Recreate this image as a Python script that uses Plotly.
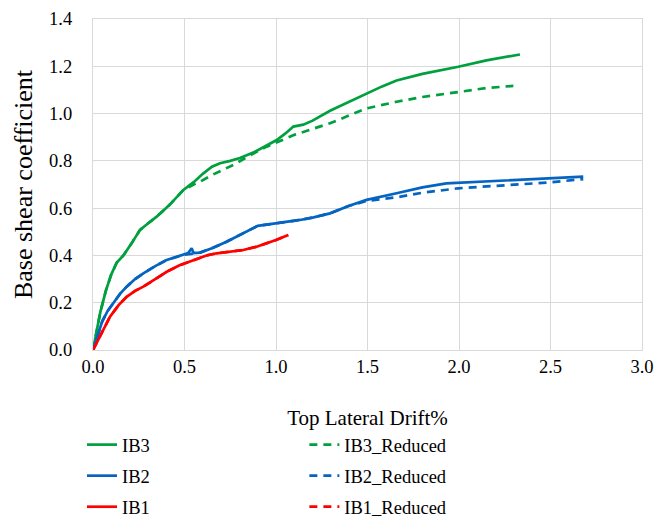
import plotly.graph_objects as go

# ---- data ----
ib3_x = [0, 0.02, 0.04, 0.07, 0.10, 0.13, 0.166, 0.21, 0.257, 0.30, 0.348, 0.42, 0.494, 0.55, 0.60, 0.65, 0.694, 0.75, 0.803, 0.876, 0.95, 1.004, 1.05, 1.095, 1.149, 1.20, 1.295, 1.40, 1.495, 1.58, 1.659, 1.80, 1.996, 2.15, 2.333]
ib3_y = [0, 0.08, 0.16, 0.25, 0.32, 0.37, 0.40, 0.45, 0.508, 0.535, 0.564, 0.615, 0.677, 0.71, 0.745, 0.775, 0.79, 0.80, 0.812, 0.835, 0.865, 0.888, 0.915, 0.945, 0.953, 0.97, 1.012, 1.05, 1.086, 1.115, 1.14, 1.168, 1.198, 1.225, 1.25]

ib3r_x = [0, 0.02, 0.04, 0.07, 0.10, 0.13, 0.166, 0.21, 0.257, 0.30, 0.348, 0.42, 0.494, 0.55, 0.585, 0.65, 0.767, 0.85, 0.949, 1.10, 1.295, 1.495, 1.659, 1.80, 1.996, 2.15, 2.297]
ib3r_y = [0, 0.08, 0.16, 0.25, 0.32, 0.37, 0.40, 0.45, 0.508, 0.535, 0.564, 0.615, 0.677, 0.70, 0.712, 0.74, 0.783, 0.82, 0.860, 0.91, 0.959, 1.022, 1.050, 1.07, 1.093, 1.108, 1.117]

ib2_x = [0, 0.02, 0.05, 0.08, 0.111, 0.15, 0.184, 0.23, 0.275, 0.34, 0.403, 0.45, 0.494, 0.52, 0.539, 0.55, 0.585, 0.65, 0.73, 0.80, 0.858, 0.90, 0.949, 1.05, 1.131, 1.20, 1.295, 1.40, 1.495, 1.659, 1.80, 1.931, 2.204, 2.497, 2.679]
ib2_y = [0, 0.05, 0.12, 0.165, 0.198, 0.24, 0.268, 0.30, 0.324, 0.355, 0.381, 0.392, 0.402, 0.41, 0.43, 0.41, 0.412, 0.43, 0.458, 0.485, 0.508, 0.525, 0.53, 0.54, 0.55, 0.56, 0.578, 0.61, 0.635, 0.663, 0.688, 0.705, 0.715, 0.726, 0.733]

ib2r_x = [0, 0.02, 0.05, 0.08, 0.111, 0.15, 0.184, 0.23, 0.275, 0.34, 0.403, 0.45, 0.494, 0.585, 0.65, 0.73, 0.80, 0.858, 0.90, 0.949, 1.05, 1.131, 1.20, 1.295, 1.40, 1.495, 1.659, 1.80, 1.996, 2.297, 2.497, 2.679]
ib2r_y = [0, 0.05, 0.12, 0.165, 0.198, 0.24, 0.268, 0.30, 0.324, 0.355, 0.381, 0.392, 0.402, 0.412, 0.43, 0.458, 0.485, 0.508, 0.525, 0.53, 0.54, 0.55, 0.56, 0.578, 0.61, 0.630, 0.646, 0.665, 0.684, 0.698, 0.709, 0.723]

ib1_x = [0, 0.02, 0.05, 0.093, 0.14, 0.184, 0.23, 0.275, 0.34, 0.403, 0.47, 0.548, 0.62, 0.676, 0.75, 0.821, 0.89, 0.949, 1.00, 1.067]
ib1_y = [0, 0.03, 0.08, 0.141, 0.19, 0.225, 0.25, 0.268, 0.30, 0.331, 0.357, 0.381, 0.40, 0.409, 0.415, 0.423, 0.436, 0.451, 0.465, 0.486]

ib1r_x = list(ib1_x)
ib1r_y = list(ib1_y)

GREEN = "#00A03E"
BLUE = "#0563C1"
RED = "#FF0000"
FONT = "Liberation Serif"

fig = go.Figure()

def add(x, y, name, color, dash, legend):
    fig.add_trace(go.Scatter(
        x=x, y=y, name=name, mode="lines",
        line=dict(color=color, width=2.7, dash=dash),
        legend=legend, legendgroup=name,
    ))

add(ib3r_x, ib3r_y, "IB3_Reduced", GREEN, "8px,6px", "legend2")
add(ib2r_x, ib2r_y, "IB2_Reduced", BLUE, "8px,6px", "legend2")
add(ib1r_x, ib1r_y, "IB1_Reduced", RED, "8px,6px", "legend2")
add(ib3_x, ib3_y, "IB3", GREEN, "solid", "legend")
add(ib2_x, ib2_y, "IB2", BLUE, "solid", "legend")
add(ib1_x, ib1_y, "IB1", RED, "solid", "legend")

legend_common = dict(
    font=dict(family=FONT, size=18.5, color="black"),
    bgcolor="rgba(0,0,0,0)",
    traceorder="grouped",
    orientation="v",
    xanchor="left", yanchor="bottom",
    itemwidth=30,
    tracegroupgap=4,
)

fig.update_layout(
    width=659, height=520,
    margin=dict(l=93, r=17, t=19, b=170, autoexpand=False),
    paper_bgcolor="white", plot_bgcolor="white",
    font=dict(family=FONT, size=18.5, color="black"),
    showlegend=True,
    legend=dict(x=-0.02, y=-0.532, **legend_common),
    legend2=dict(x=0.385, y=-0.532, **legend_common),
    xaxis=dict(
        range=[0, 3.0], tickvals=[0, 0.5, 1.0, 1.5, 2.0, 2.5, 3.0],
        ticktext=["0.0", "0.5", "1.0", "1.5", "2.0", "2.5", "3.0"],
        showgrid=True, gridcolor="#d9d9d9", gridwidth=1.3,
        zeroline=False, showline=True, linecolor="#d9d9d9", linewidth=1.3, mirror=True,
        ticks="", ticklabelstandoff=0, automargin=False,
        tickfont=dict(family=FONT, size=18.5, color="black"),
        title=dict(text="Top Lateral Drift%", font=dict(family=FONT, size=21, color="black"), standoff=33),
    ),
    yaxis=dict(
        range=[0, 1.4], tickvals=[0, 0.2, 0.4, 0.6, 0.8, 1.0, 1.2, 1.4],
        ticktext=["0.0", "0.2", "0.4", "0.6", "0.8", "1.0", "1.2", "1.4"],
        showgrid=True, gridcolor="#d9d9d9", gridwidth=1.3,
        zeroline=False, showline=True, linecolor="#d9d9d9", linewidth=1.3, mirror=True,
        ticks="", ticklabelstandoff=16, automargin=False,
        tickfont=dict(family=FONT, size=18.5, color="black"),
        title=dict(text="Base shear coefficient", font=dict(family=FONT, size=26, color="black"), standoff=8),
    ),
)

fig.write_html("out.html")
